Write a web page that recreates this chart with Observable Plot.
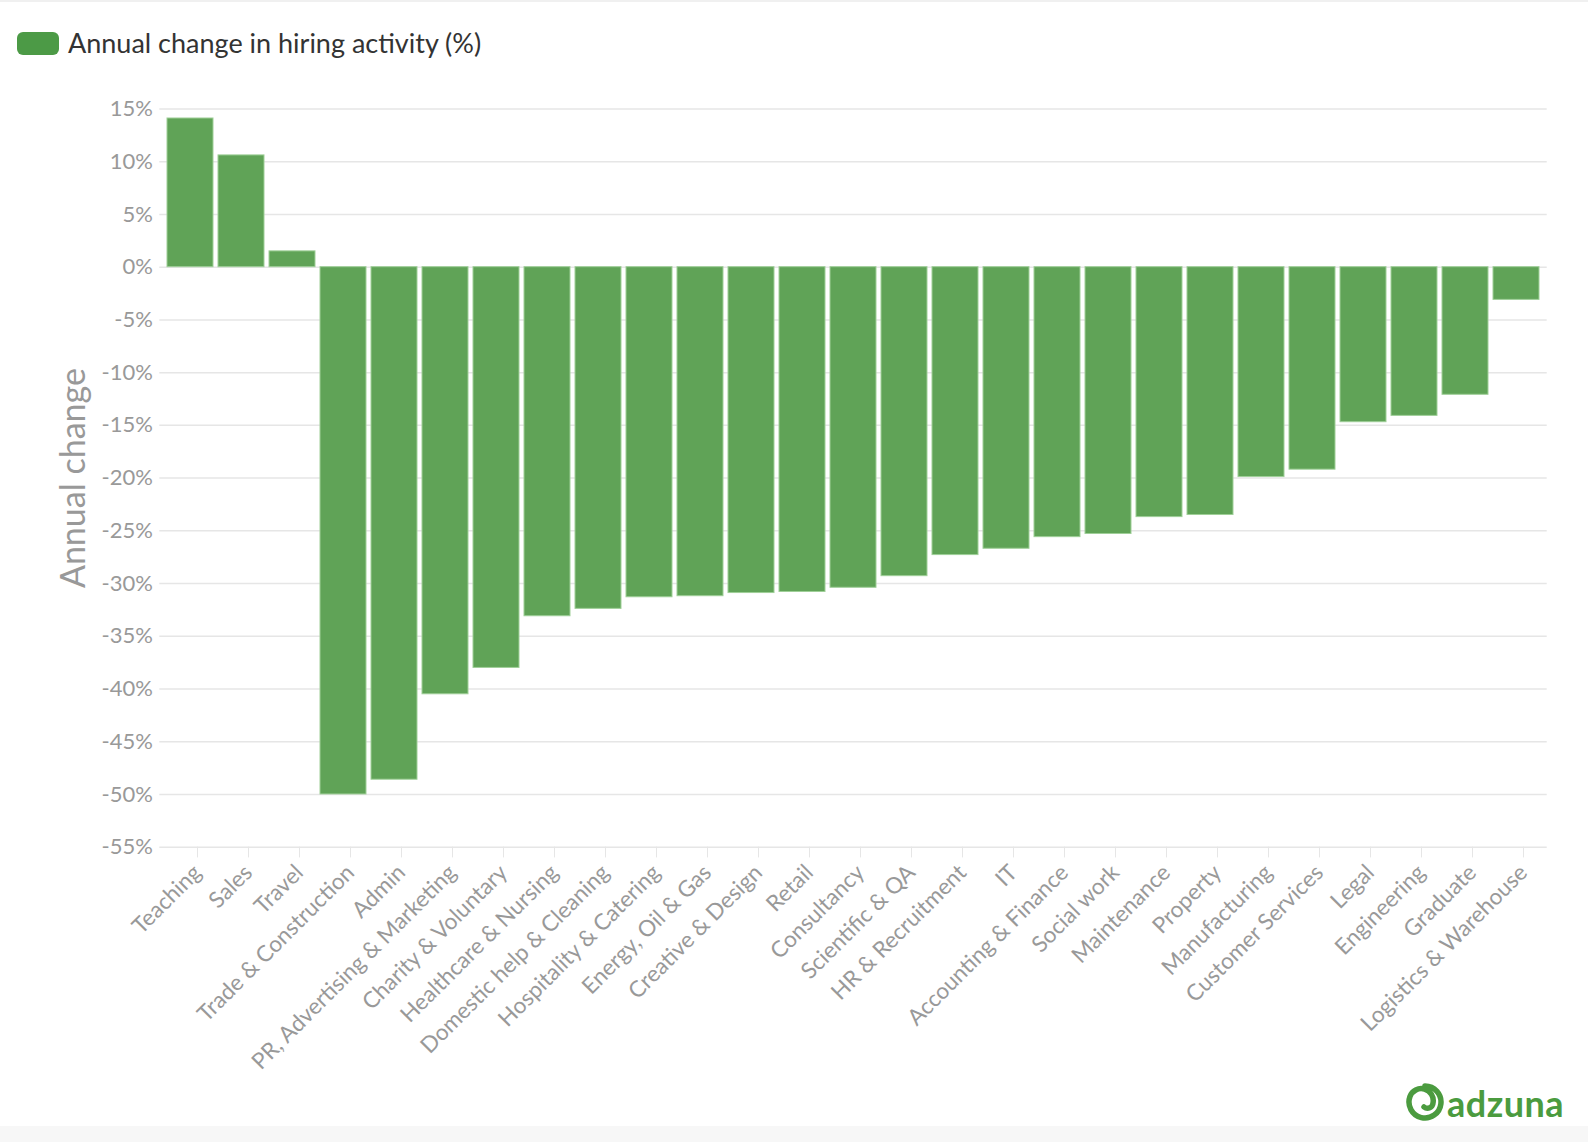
<!DOCTYPE html>
<html>
<head>
<meta charset="utf-8">
<script src="https://cdn.jsdelivr.net/npm/d3@7"></script>
<script src="https://cdn.jsdelivr.net/npm/@observablehq/plot@0.6"></script>
<style>
  html, body { margin: 0; padding: 0; background: #fff; }
  body { width: 1588px; height: 1142px; position: relative; overflow: hidden; font-family: Lato, "Open Sans", sans-serif; }
  #legend { position: relative; height: 80px; }
  #swatch { position: absolute; left: 17px; top: 32px; width: 42px; height: 23px; border-radius: 6px; background: #4c9a46; }
  #legendText { position: absolute; left: 68px; top: 29px; font-size: 27px; line-height: 1; color: #333; white-space: nowrap; }
  #logo { position: absolute; left: 1405px; top: 1082px; display: flex; align-items: center; }
  #logoText { font-family: Lato, sans-serif; font-weight: 700; font-size: 36px; color: #4b9b3f; letter-spacing: 0.5px; margin-left: 2px; line-height: 1; }
  #topStrip { position: absolute; left: 0; top: 0; width: 100%; height: 2px; background: #f0f0f0; }
  #bottomStrip { position: absolute; left: 0; top: 1126px; width: 100%; height: 16px; background: #f7f7f7; }
</style>
</head>
<body>
<div id="topStrip"></div>
<div id="legend"><div id="swatch"></div><div id="legendText">Annual change in hiring activity (%)</div></div>
<div id="chart"></div>
<div id="bottomStrip"></div>
<div id="logo">
  <svg width="40" height="42" viewBox="0 0 40 42">
    <path d="M 20 4 A 16 16 0 1 1 4.96 14.53 A 12 12 0 0 1 28 21 A 5.5 5.5 0 0 1 19 25" fill="none" stroke="#4b9b3f" stroke-width="5.5" stroke-linecap="round"/>
  </svg>
  <span id="logoText">adzuna</span>
</div>
<script>
const categories = [
  "Teaching", "Sales", "Travel", "Trade & Construction", "Admin",
  "PR, Advertising & Marketing", "Charity & Voluntary", "Healthcare & Nursing",
  "Domestic help & Cleaning", "Hospitality & Catering", "Energy, Oil & Gas",
  "Creative & Design", "Retail", "Consultancy", "Scientific & QA",
  "HR & Recruitment", "IT", "Accounting & Finance", "Social work",
  "Maintenance", "Property", "Manufacturing", "Customer Services",
  "Legal", "Engineering", "Graduate", "Logistics & Warehouse"
];
const values = [
  14.1, 10.6, 1.5, -50.0, -48.6,
  -40.5, -38.0, -33.1,
  -32.4, -31.3, -31.2,
  -30.9, -30.8, -30.4, -29.3,
  -27.3, -26.7, -25.6, -25.3,
  -23.7, -23.5, -19.9, -19.2,
  -14.7, -14.1, -12.1, -3.1
];
const yTicks = [15, 10, 5, 0, -5, -10, -15, -20, -25, -30, -35, -40, -45, -50, -55];
const yTitle = "Annual change";

const data = categories.map((c, i) => ({category: c, value: values[i]}));

const chart = Plot.plot({
  width: 1588,
  height: 1062,
  marginTop: 28.5,
  marginBottom: 295.3,
  marginLeft: 159.3,
  marginRight: 41.3,
  style: {fontFamily: "Lato, 'Open Sans', sans-serif", background: "transparent", overflow: "visible"},
  x: {domain: categories, padding: 0.1, label: null},
  y: {domain: [-55, 15], label: null},
  marks: [
    Plot.gridY(yTicks, {stroke: "#e6e6e6", strokeOpacity: 1, strokeWidth: 1.5}),
    Plot.barY(data, {x: "category", y: "value", fill: "#60a357", stroke: "#9fcf98", strokeWidth: 1}),
    Plot.axisY(yTicks, {tickSize: 0, tickPadding: 7, fontSize: 22, fill: "#999", tickFormat: d => `${d}%`, label: null}),
    Plot.axisX({tickSize: 10.7, stroke: "#e6e6e6", strokeOpacity: 1, tickRotate: -45, tickPadding: 11, dx: 7, fontSize: 22.5, fill: "#999", label: null}),
    Plot.text([yTitle], {frameAnchor: "left", text: d => d, rotate: -90, dx: -85.6, fontSize: 34, fill: "#999", textAnchor: "middle"})
  ]
});
document.getElementById("chart").appendChild(chart);
</script>
</body>
</html>
